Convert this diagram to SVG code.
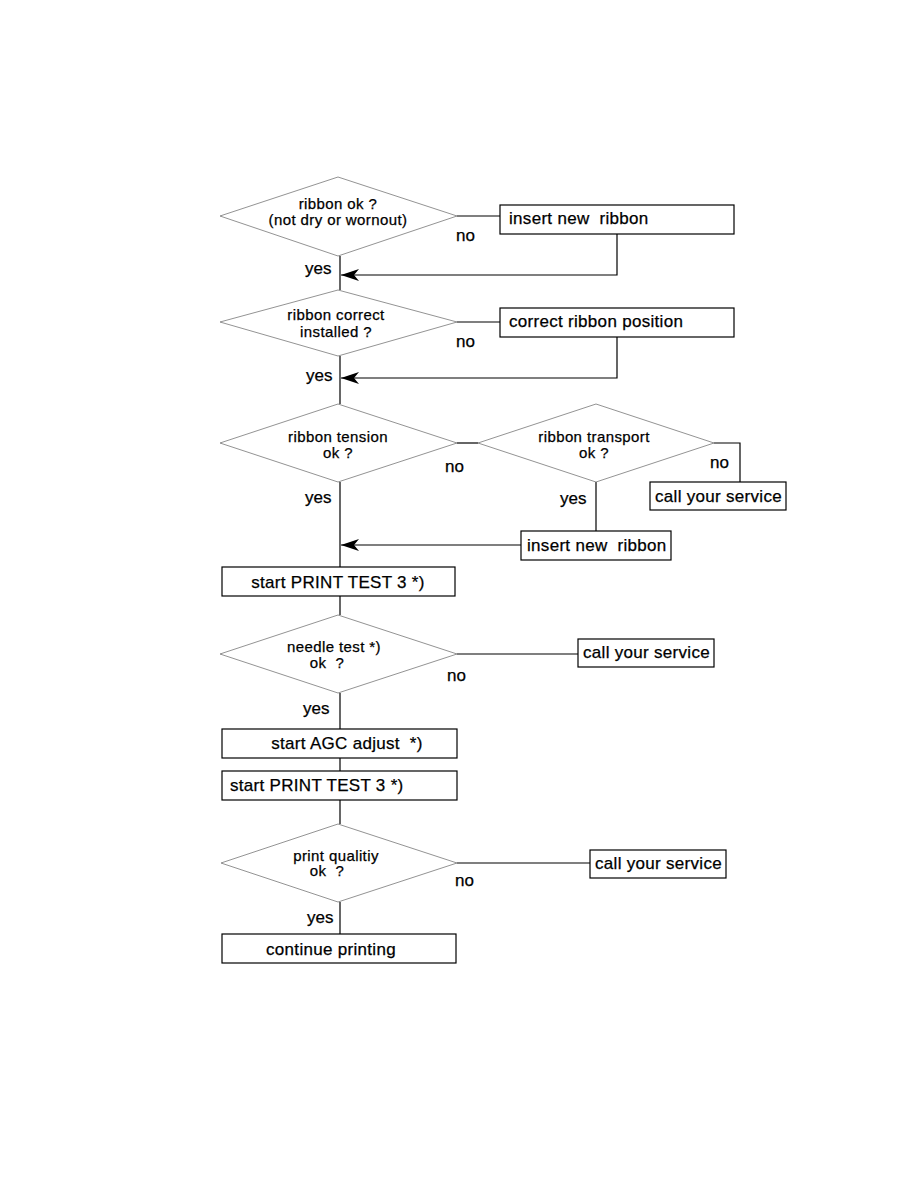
<svg xmlns="http://www.w3.org/2000/svg" width="918" height="1188" viewBox="0 0 918 1188">
<style>
.d{fill:#fff;stroke:#777;stroke-width:0.8}
.b{fill:#fff;stroke:#000;stroke-width:1.2}
.c{fill:none;stroke:#000;stroke-width:1.2}
text{font-family:"Liberation Sans",Arial,sans-serif;fill:#000;stroke:#000;stroke-width:0.25;white-space:pre}
.dt{font-size:15px;letter-spacing:0.4px;text-anchor:middle}
.bt{font-size:17px;letter-spacing:0.3px}
.l{font-size:17px}
</style>
<defs>
<marker id="ar" markerWidth="20" markerHeight="14" refX="18" refY="7" orient="auto" markerUnits="userSpaceOnUse">
<path d="M18,7 L0,1 L5,7 L0,13 Z" fill="#000"/>
</marker>
</defs>
<rect width="918" height="1188" fill="#fff"/>
<g id="connectors">
<polyline class="c" points="457,216 500,216"/>
<polyline class="c" points="617,234 617,275 341,275" marker-end="url(#ar)"/>
<line class="c" x1="340" y1="256" x2="340" y2="290"/>
<polyline class="c" points="457,322 500,322"/>
<polyline class="c" points="617,337 617,378 341,378" marker-end="url(#ar)"/>
<line class="c" x1="340" y1="356" x2="340" y2="404"/>
<line class="c" x1="457" y1="443" x2="478" y2="443"/>
<polyline class="c" points="714,443 740,443 740,482"/>
<line class="c" x1="596" y1="482" x2="596" y2="531"/>
<polyline class="c" points="521,545 341,545" marker-end="url(#ar)"/>
<line class="c" x1="340" y1="482" x2="340" y2="567"/>
<line class="c" x1="340" y1="596" x2="340" y2="615"/>
<line class="c" x1="457" y1="654" x2="578" y2="654"/>
<line class="c" x1="340" y1="693" x2="340" y2="729"/>
<line class="c" x1="340" y1="758" x2="340" y2="771"/>
<line class="c" x1="340" y1="800" x2="340" y2="824"/>
<line class="c" x1="457" y1="863" x2="590" y2="863"/>
<line class="c" x1="340" y1="902" x2="340" y2="934"/>
</g>
<g id="labels">
<text class="l" x="456" y="241">no</text>
<text class="l" x="305" y="274">yes</text>
<text class="l" x="456" y="347">no</text>
<text class="l" x="306" y="381">yes</text>
<text class="l" x="445" y="472">no</text>
<text class="l" x="710" y="468">no</text>
<text class="l" x="560" y="504">yes</text>
<text class="l" x="305" y="503">yes</text>
<text class="l" x="447" y="681">no</text>
<text class="l" x="303" y="714">yes</text>
<text class="l" x="455" y="886">no</text>
<text class="l" x="307" y="923">yes</text>
</g>
<g id="d1"><polygon class="d" points="338,177 457,216 338,256 220,216"/><text class="dt" x="338" y="209">ribbon ok ?</text><text class="dt" x="338" y="225">(not dry or wornout)</text></g>
<g id="b1"><rect class="b" x="500" y="205" width="234" height="29"/><text class="bt" x="509" y="224">insert new  ribbon</text></g>
<g id="d2"><polygon class="d" points="338,290 457,322 338,356 220,322"/><text class="dt" x="336" y="320">ribbon correct</text><text class="dt" x="336" y="337">installed ?</text></g>
<g id="b2"><rect class="b" x="500" y="308" width="234" height="29"/><text class="bt" x="509" y="327">correct ribbon position</text></g>
<g id="d3"><polygon class="d" points="338,404 457,443 338,482 220,443"/><text class="dt" x="338" y="442">ribbon tension</text><text class="dt" x="338" y="458">ok ?</text></g>
<g id="d4"><polygon class="d" points="596,404 714,443 596,482 478,443"/><text class="dt" x="594" y="442">ribbon transport</text><text class="dt" x="594" y="458">ok ?</text></g>
<g id="b3"><rect class="b" x="650" y="482" width="136" height="28"/><text class="bt" x="655" y="502">call your service</text></g>
<g id="b4"><rect class="b" x="521" y="531" width="150" height="29"/><text class="bt" x="527" y="551">insert new  ribbon</text></g>
<g id="b5"><rect class="b" x="222" y="567" width="233" height="29"/><text class="bt" x="338" y="588" text-anchor="middle">start PRINT TEST 3 *)</text></g>
<g id="d5"><polygon class="d" points="338,615 457,654 338,693 220,654"/><text class="dt" x="334" y="652">needle test *)</text><text class="dt" x="327" y="668">ok  ?</text></g>
<g id="b6"><rect class="b" x="578" y="639" width="136" height="28"/><text class="bt" x="583" y="658">call your service</text></g>
<g id="b7"><rect class="b" x="222" y="729" width="235" height="29"/><text class="bt" x="347" y="749" text-anchor="middle">start AGC adjust  *)</text></g>
<g id="b8"><rect class="b" x="222" y="771" width="235" height="29"/><text class="bt" x="230" y="791">start PRINT TEST 3 *)</text></g>
<g id="d6"><polygon class="d" points="338,824 457,863 338,902 221,863"/><text class="dt" x="336" y="861">print qualitiy</text><text class="dt" x="327" y="876">ok  ?</text></g>
<g id="b9"><rect class="b" x="590" y="850" width="136" height="28"/><text class="bt" x="595" y="869">call your service</text></g>
<g id="b10"><rect class="b" x="222" y="934" width="234" height="29"/><text class="bt" x="331" y="955" text-anchor="middle">continue printing</text></g>
</svg>
